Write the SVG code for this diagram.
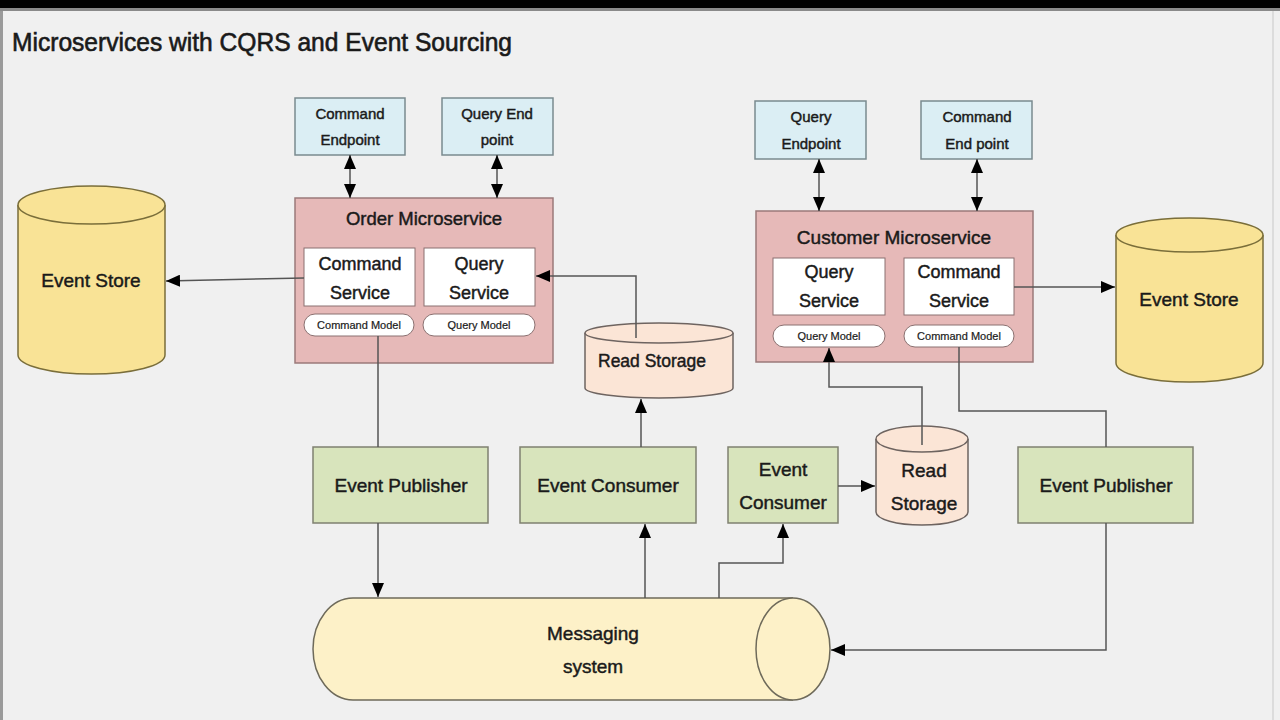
<svg xmlns="http://www.w3.org/2000/svg" width="1280" height="720" viewBox="0 0 1280 720">
<defs>
<marker id="ah" viewBox="0 0 14 12" refX="14" refY="6" markerWidth="14" markerHeight="12" markerUnits="userSpaceOnUse" orient="auto-start-reverse">
<path d="M0,0 L14,6 L0,12 Z" fill="#000"/>
</marker>
<style>
text{font-family:"Liberation Sans",Arial,sans-serif;fill:#1a1a1a;stroke:#1a1a1a;stroke-width:0.45;text-anchor:middle}
.ms{fill:#e6b9b8;stroke:#9a7a7a;stroke-width:1.5}
.svc{fill:#fff;stroke:#8a7070;stroke-width:1}
.pill{fill:#fff;stroke:#8a7070;stroke-width:1}
.ep{fill:#dbeef4;stroke:#7a8a8f;stroke-width:1.5}
.ev{fill:#d8e4bc;stroke:#7f8070;stroke-width:1.5}
.es{fill:#f9e396;stroke:#7a6e3a;stroke-width:1.5}
.rs{fill:#fbe5d6;stroke:#6e6460;stroke-width:1.5}
.msg{fill:#fdf1c8;stroke:#6e6a5a;stroke-width:1.5}
.c{fill:none;stroke:#555;stroke-width:1.5}
</style>
</defs>
<rect x="0" y="0" width="1280" height="720" fill="#f0f0f0"/>
<rect x="0" y="0" width="1280" height="8" fill="#000"/>
<rect x="0" y="8" width="1280" height="3" fill="#8a8a8a"/>
<rect x="0" y="11" width="3" height="709" fill="#9a9a9a"/>
<rect x="1272" y="11" width="2" height="709" fill="#dcdcdc"/>
<text x="12" y="51" style="text-anchor:start;font-size:25px;stroke-width:0.6" textLength="500" lengthAdjust="spacingAndGlyphs">Microservices with CQRS and Event Sourcing</text>

<g id="order-ms">
<rect class="ms" x="295" y="198" width="258" height="165"/>
<text x="424" y="225" style="font-size:18.5px">Order Microservice</text>
</g>
<g id="order-cmd-svc">
<rect class="svc" x="304" y="248" width="111" height="58"/>
<text x="360" y="270" style="font-size:18px">Command</text>
<text x="360" y="299" style="font-size:18px">Service</text>
</g>
<g id="order-qry-svc">
<rect class="svc" x="424" y="248" width="111" height="58"/>
<text x="479" y="270" style="font-size:18px">Query</text>
<text x="479" y="299" style="font-size:18px">Service</text>
</g>
<g id="order-cmd-model">
<rect class="pill" x="304" y="314" width="110" height="22" rx="11"/>
<text x="359" y="329" style="font-size:11px;stroke-width:0.2">Command Model</text>
</g>
<g id="order-qry-model">
<rect class="pill" x="423" y="314" width="112" height="22" rx="11"/>
<text x="479" y="329" style="font-size:11px;stroke-width:0.2">Query Model</text>
</g>
<g id="order-cmd-ep">
<rect class="ep" x="295" y="98" width="110" height="57"/>
<text x="350" y="119" style="font-size:15px">Command</text>
<text x="350" y="145" style="font-size:15px">Endpoint</text>
</g>
<g id="order-qry-ep">
<rect class="ep" x="442" y="98" width="111" height="57"/>
<text x="497" y="119" style="font-size:15px">Query End</text>
<text x="497" y="145" style="font-size:15px">point</text>
</g>

<g id="event-store-left">
<path class="es" d="M18,205 L18,355 A73.5,19 0 0 0 165,355 L165,205"/>
<ellipse class="es" cx="91.5" cy="205" rx="73.5" ry="19"/>
<text x="91" y="287" style="font-size:19px">Event Store</text>
</g>

<g id="read-storage-mid">
<path class="rs" d="M585,333 L585,388 A74,10 0 0 0 733,388 L733,333"/>
<ellipse class="rs" cx="659" cy="333" rx="74" ry="10"/>
<text x="652" y="367" style="font-size:17.5px">Read Storage</text>
</g>

<g id="event-publisher-left">
<rect class="ev" x="313" y="447" width="175" height="76"/>
<text x="401" y="492" style="font-size:19px">Event Publisher</text>
</g>
<g id="event-consumer-mid">
<rect class="ev" x="520" y="447" width="176" height="76"/>
<text x="608" y="492" style="font-size:19px">Event Consumer</text>
</g>
<g id="event-consumer-right">
<rect class="ev" x="728" y="447" width="110" height="76"/>
<text x="783" y="476" style="font-size:19px">Event</text>
<text x="783" y="509" style="font-size:19px">Consumer</text>
</g>
<g id="read-storage-right">
<path class="rs" d="M876,439 L876,512 A46,13 0 0 0 968,512 L968,439"/>
<ellipse class="rs" cx="922" cy="439" rx="46" ry="13"/>
<text x="924" y="477" style="font-size:19px">Read</text>
<text x="924" y="510" style="font-size:19px">Storage</text>
</g>
<g id="event-publisher-right">
<rect class="ev" x="1018" y="447" width="175" height="76"/>
<text x="1106" y="492" style="font-size:19px">Event Publisher</text>
</g>

<g id="customer-ms">
<rect class="ms" x="756" y="211" width="277" height="151"/>
<text x="894" y="244" style="font-size:19px">Customer Microservice</text>
</g>
<g id="cust-qry-svc">
<rect class="svc" x="773" y="258" width="112" height="57"/>
<text x="829" y="278" style="font-size:18px">Query</text>
<text x="829" y="307" style="font-size:18px">Service</text>
</g>
<g id="cust-cmd-svc">
<rect class="svc" x="904" y="258" width="110" height="57"/>
<text x="959" y="278" style="font-size:18px">Command</text>
<text x="959" y="307" style="font-size:18px">Service</text>
</g>
<g id="cust-qry-model">
<rect class="pill" x="773" y="325" width="112" height="22" rx="11"/>
<text x="829" y="340" style="font-size:11px;stroke-width:0.2">Query Model</text>
</g>
<g id="cust-cmd-model">
<rect class="pill" x="904" y="325" width="110" height="22" rx="11"/>
<text x="959" y="340" style="font-size:11px;stroke-width:0.2">Command Model</text>
</g>
<g id="cust-qry-ep">
<rect class="ep" x="755" y="101" width="111" height="58"/>
<text x="811" y="122" style="font-size:15px">Query</text>
<text x="811" y="149" style="font-size:15px">Endpoint</text>
</g>
<g id="cust-cmd-ep">
<rect class="ep" x="921" y="101" width="111" height="58"/>
<text x="977" y="122" style="font-size:15px">Command</text>
<text x="977" y="149" style="font-size:15px">End point</text>
</g>

<g id="event-store-right">
<path class="es" d="M1116,235 L1116,363 A73.5,19 0 0 0 1263,363 L1263,235"/>
<ellipse class="es" cx="1189.5" cy="235" rx="73.5" ry="17"/>
<text x="1189" y="306" style="font-size:19px">Event Store</text>
</g>

<g id="messaging-system">
<path class="msg" d="M793,598 L353,598 A40,51 0 0 0 353,700 L793,700"/>
<ellipse class="msg" cx="793" cy="649" rx="37" ry="51"/>
<text x="593" y="640" style="font-size:19px">Messaging</text>
<text x="593" y="673" style="font-size:19px">system</text>
</g>

<g id="connectors">
<line class="c" x1="350" y1="155" x2="350" y2="198" marker-start="url(#ah)" marker-end="url(#ah)"/>
<line class="c" x1="497" y1="155" x2="497" y2="198" marker-start="url(#ah)" marker-end="url(#ah)"/>
<line class="c" x1="819" y1="159" x2="819" y2="211" marker-start="url(#ah)" marker-end="url(#ah)"/>
<line class="c" x1="977" y1="159" x2="977" y2="211" marker-start="url(#ah)" marker-end="url(#ah)"/>
<line class="c" x1="304" y1="278" x2="166" y2="281" marker-end="url(#ah)"/>
<polyline class="c" points="636,338 636,276 536,276" marker-end="url(#ah)"/>
<line class="c" x1="641" y1="447" x2="641" y2="399" marker-end="url(#ah)"/>
<line class="c" x1="378" y1="336" x2="378" y2="447"/>
<line class="c" x1="378" y1="523" x2="378" y2="597" marker-end="url(#ah)"/>
<line class="c" x1="645" y1="598" x2="645" y2="524" marker-end="url(#ah)"/>
<polyline class="c" points="719,598 719,563 783,563 783,524" marker-end="url(#ah)"/>
<line class="c" x1="838" y1="486" x2="875" y2="486" marker-end="url(#ah)"/>
<polyline class="c" points="922,445 922,387 829,387 829,348" marker-end="url(#ah)"/>
<line class="c" x1="1014" y1="287" x2="1115" y2="287" marker-end="url(#ah)"/>
<polyline class="c" points="959,347 959,411 1106,411 1106,447"/>
<polyline class="c" points="1106,523 1106,650 831,650" marker-end="url(#ah)"/>
</g>
</svg>
